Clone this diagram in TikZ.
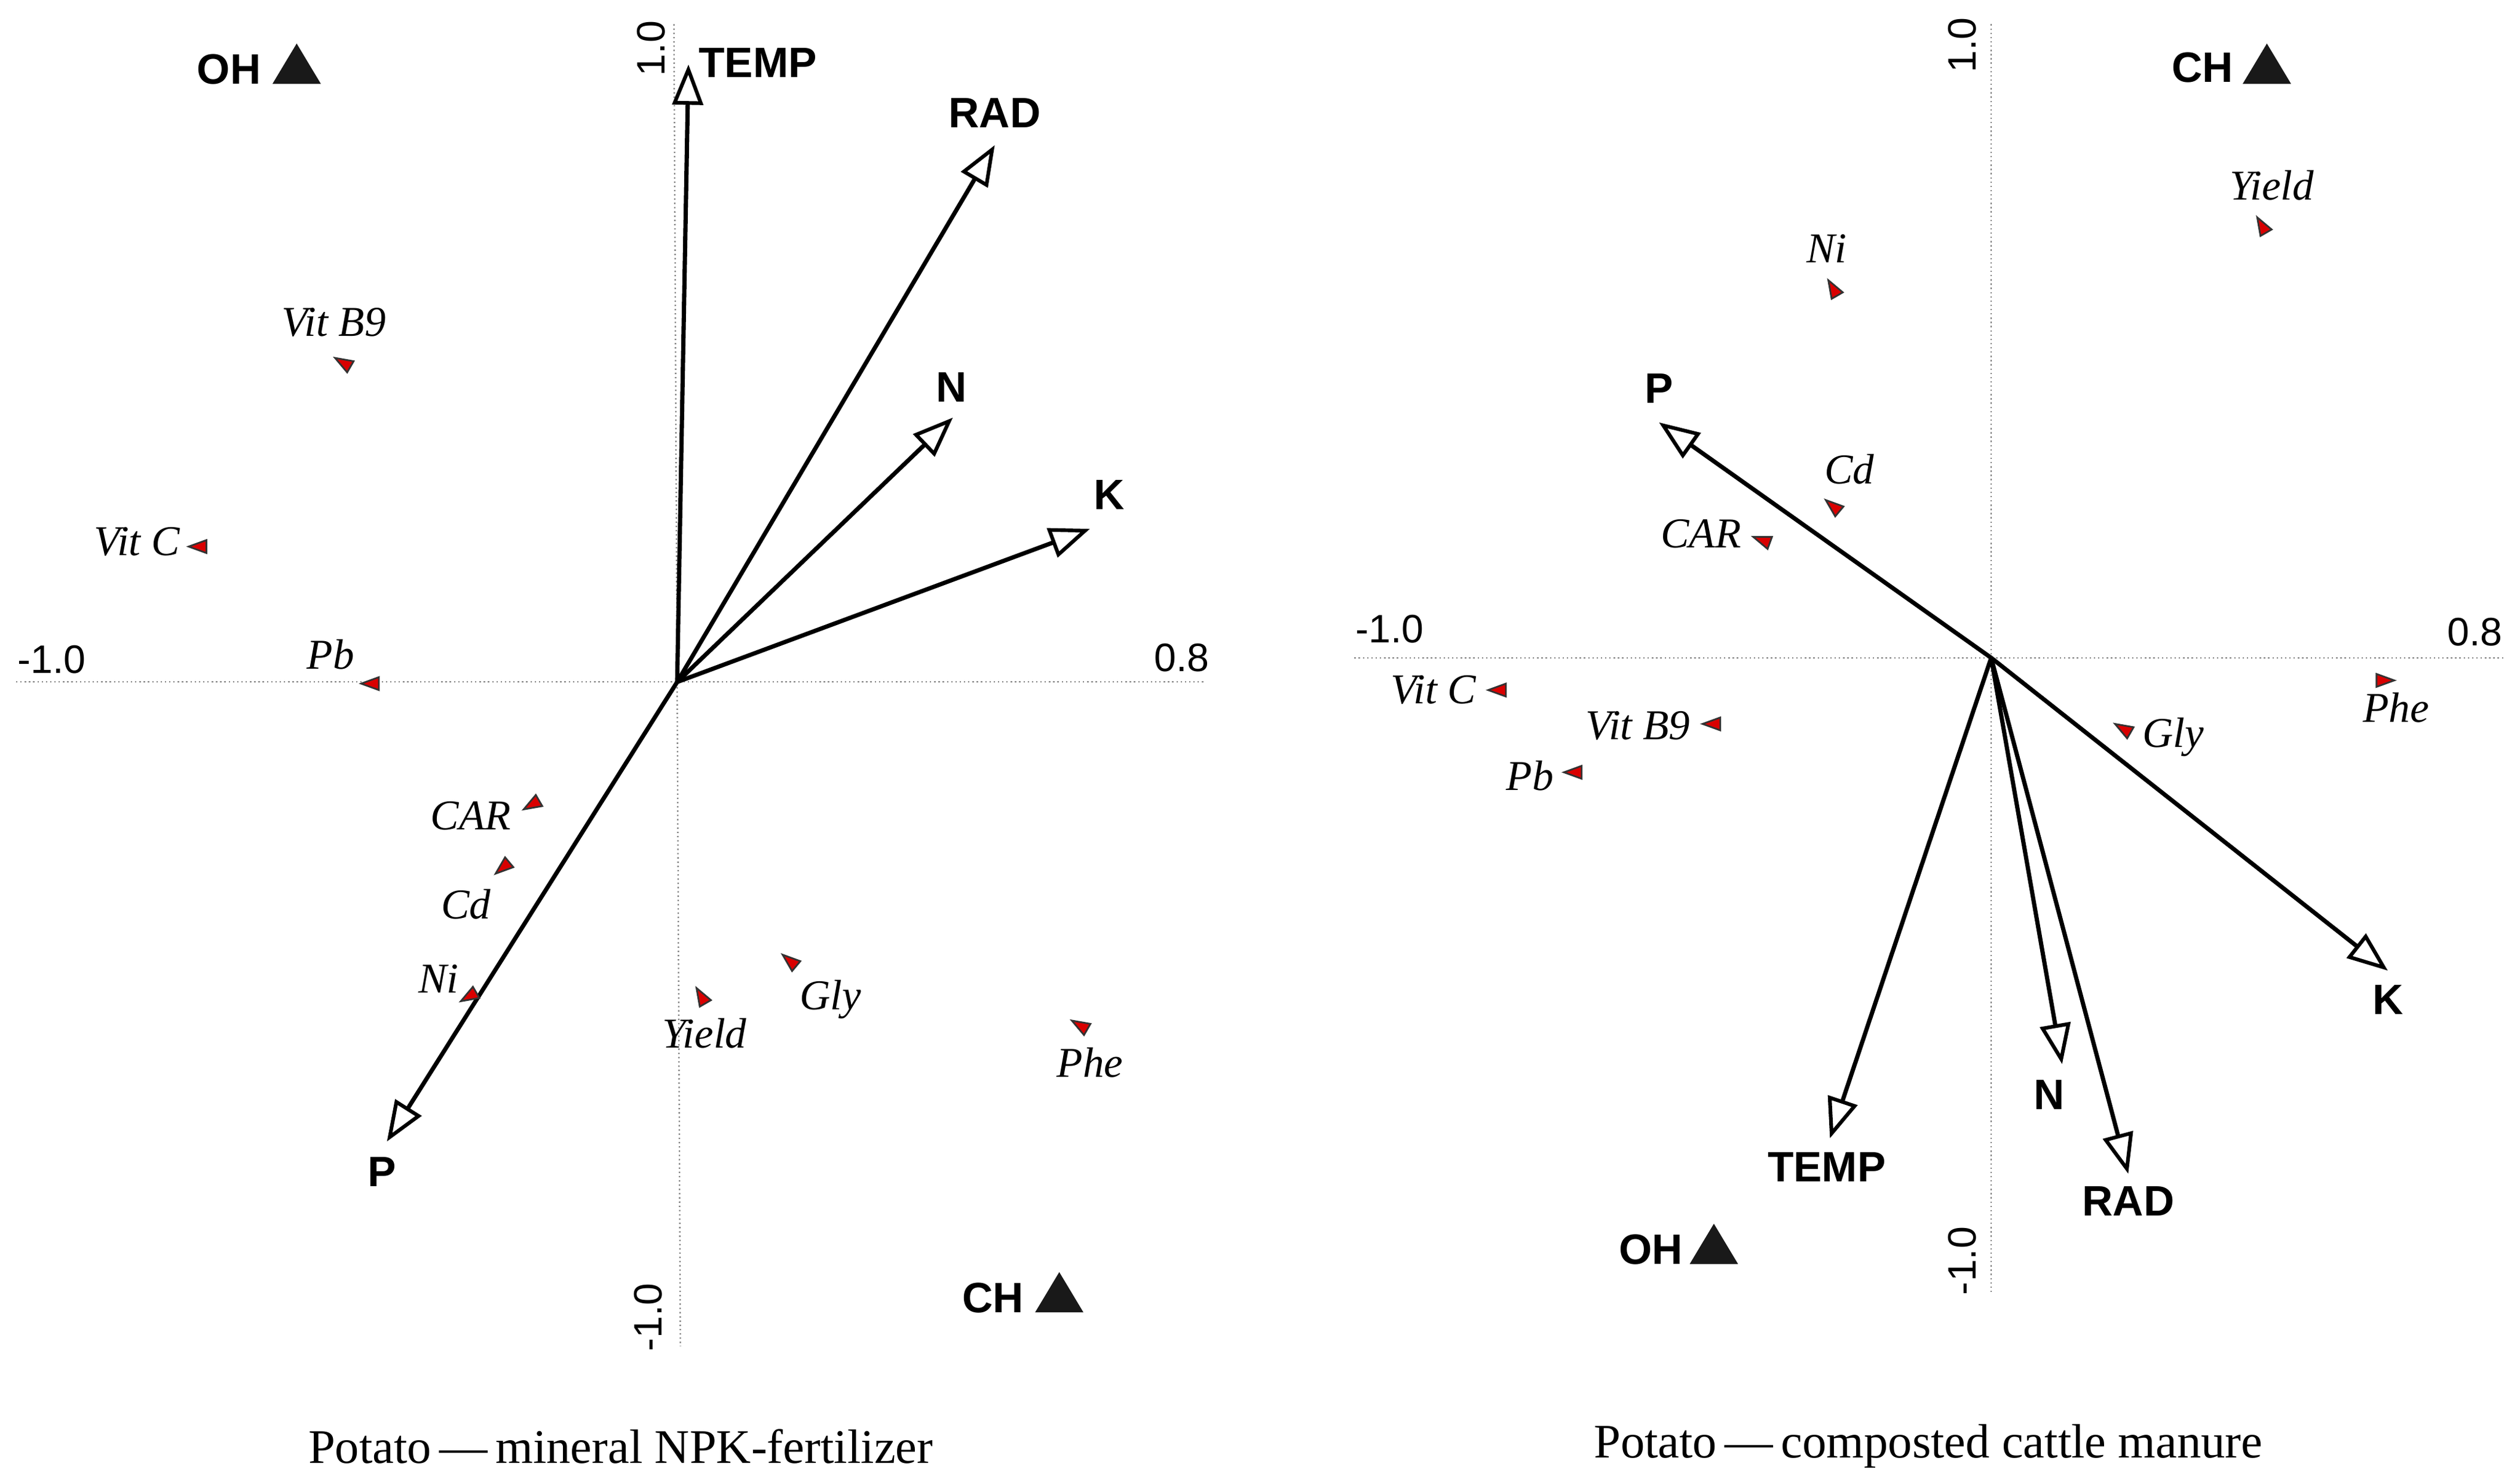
\documentclass[tikz,border=0pt]{standalone}
\usepackage{fontspec}
\setmainfont{Liberation Serif}
\setsansfont{Liberation Sans}
\usetikzlibrary{arrows.meta}
\begin{document}
\begin{tikzpicture}[x=0.2mm,y=-0.2mm,
  ax/.style={densely dotted,gray,line width=0.5pt},
  vec/.style={line width=1.5pt,-{Triangle[open,length=5mm,width=3.8mm,line width=1.3pt]}},
  vl/.style={font=\sffamily\bfseries\fontsize{15}{15}\selectfont},
  sl/.style={font=\itshape\fontsize{15}{15}\selectfont},
  num/.style={font=\sffamily\fontsize{14}{14}\selectfont},
  mk/.style={fill=red!85!black,draw=black!80,line width=0.6pt},
  big/.style={fill=black!90}]
\useasboundingbox (0,0) rectangle (1563,917);
\newcommand{\mrk}[3]{\draw[mk,rotate around={#3:(#1,#2)}] (#1-6,#2) -- (#1+5,#2-4) -- (#1+5,#2+4) -- cycle;}
\newcommand{\btri}[2]{\fill[big] (#1-15,#2+12) -- (#1,#2-13) -- (#1+15,#2+12) -- cycle;}
% ---- left plot
\draw[ax] (10,423) -- (748,423);
\draw[ax] (418,15) -- (422,835);
\node[num] (l1) at (32,409) {-1.0};
\node[num] (l2) at (733,408) {0.8};
\node[num,rotate=90] (l3) at (404,30) {1.0};
\node[num,rotate=90] (l4) at (402,817) {-1.0};
\coordinate (lo) at (420,423);
\coordinate (lT) at (427,40); \coordinate (lR) at (617,90);
\coordinate (lN) at (591,259); \coordinate (lK) at (676,328);
\coordinate (lP) at (240,708);
\foreach \e in {lT,lR,lN,lK,lP} \draw[vec] (lo) -- (\e);
\node[vl] (tT) at (470,39) {TEMP};
\node[vl] (tR) at (617,70) {RAD};
\node[vl] (tN) at (590,240) {N};
\node[vl] (tK) at (688,307) {K};
\node[vl] (tP) at (237,727) {P};
\node[vl] (tOH) at (142,43) {OH}; \btri{184}{40}
\node[vl] (tCH) at (616,805) {CH}; \btri{657}{802}
\mrk{213}{225}{-30}\node[sl] (a1) at (207,200) {Vit B9};
\mrk{123}{339}{0}\node[sl] (a2) at (85,336) {Vit C};
\mrk{230}{424}{0}\node[sl] (a3) at (205,406) {Pb};
\mrk{330}{499}{30}\node[sl] (a4) at (292,506) {CAR};
\mrk{312}{538}{40}\node[sl] (a5) at (289,561) {Cd};
\mrk{291}{618}{30}\node[sl] (a6) at (272,607) {Ni};
\mrk{435}{618}{-60}\node[sl] (a7) at (437,641) {Yield};
\mrk{490}{596}{-40}\node[sl] (a8) at (515,620) {Gly};
\mrk{670}{636}{-30}\node[sl] (a9) at (676,659) {Phe};
\node[font=\fontsize{17}{17}\selectfont] (c1) at (385,897) {Potato\,---\,mineral NPK-fertilizer};
% ---- right plot
\draw[ax] (840,408) -- (1553,408);
\draw[ax] (1235,15) -- (1235,803);
\node[num] (r1) at (862,390) {-1.0};
\node[num] (r2) at (1535,392) {0.8};
\node[num,rotate=90] (r3) at (1217,28) {1.0};
\node[num,rotate=90] (r4) at (1217,782) {-1.0};
\coordinate (ro) at (1235,408);
\coordinate (rP) at (1029,262); \coordinate (rK) at (1481,602);
\coordinate (rN) at (1279,660); \coordinate (rR) at (1320,728);
\coordinate (rT) at (1135,706);
\foreach \e in {rP,rK,rN,rR,rT} \draw[vec] (ro) -- (\e);
\node[vl] (sP) at (1029,241) {P};
\node[vl] (sK) at (1481,620) {K};
\node[vl] (sN) at (1271,679) {N};
\node[vl] (sR) at (1320,745) {RAD};
\node[vl] (sT) at (1133,724) {TEMP};
\node[vl] (sCH) at (1366,42) {CH}; \btri{1406}{40}
\node[vl] (sOH) at (1024,775) {OH}; \btri{1063}{772}
\mrk{1137}{179}{-60}\node[sl] (b1) at (1133,154) {Ni};
\mrk{1403}{140}{-60}\node[sl] (b2) at (1409,115) {Yield};
\mrk{1137}{314}{-40}\node[sl] (b3) at (1147,291) {Cd};
\mrk{1093}{335}{-20}\node[sl] (b4) at (1055,331) {CAR};
\mrk{929}{428}{0}\node[sl] (b5) at (889,428) {Vit C};
\mrk{1062}{449}{0}\node[sl] (b6) at (1016,450) {Vit B9};
\mrk{976}{479}{0}\node[sl] (b7) at (949,481) {Pb};
\mrk{1317}{452}{-30}\node[sl] (b8) at (1348,457) {Gly};
\mrk{1479}{422}{180}\node[sl] (b9) at (1486,439) {Phe};
\node[font=\fontsize{17}{17}\selectfont] (c2) at (1196,897) {Potato\,---\,composted cattle manure};
\end{tikzpicture}
\end{document}
